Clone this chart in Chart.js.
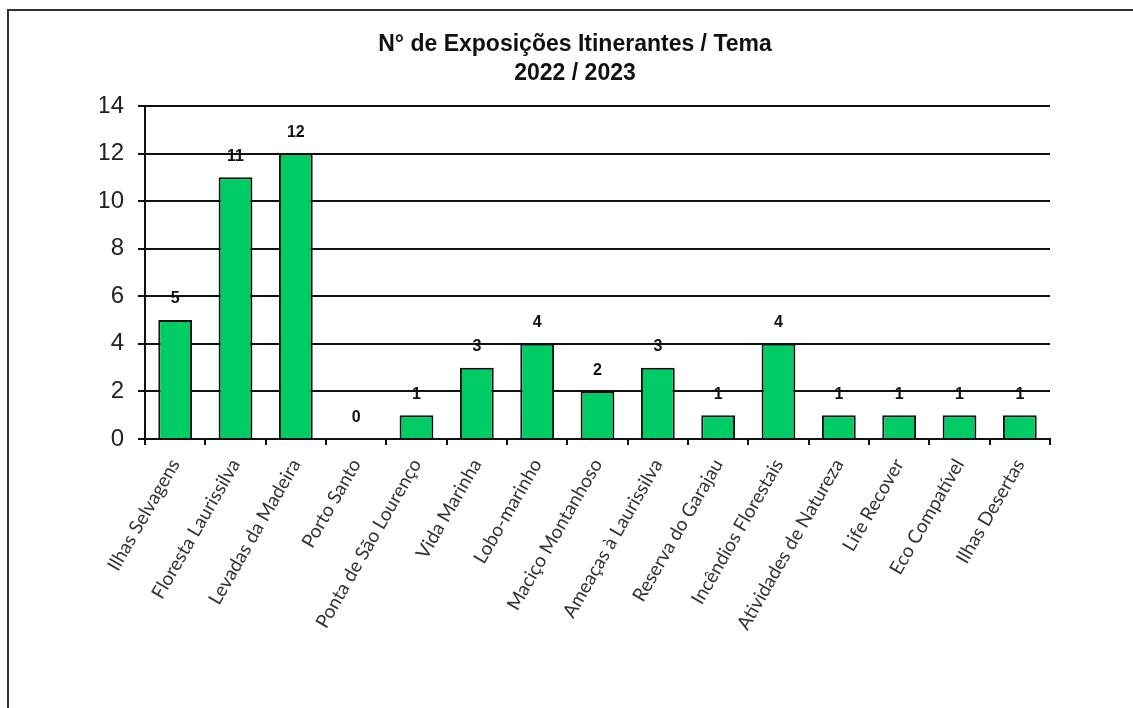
<!DOCTYPE html>
<html lang="pt">
<head>
<meta charset="utf-8">
<title>Exposições Itinerantes / Tema</title>
<script src="https://cdn.jsdelivr.net/npm/chart.js@4/dist/chart.umd.min.js"></script>
<style>
    html, body { margin: 0; padding: 0; background: #fff; }
    #moldura { width: 1133px; height: 708px; }
</style>
</head>
<body>
<div id="moldura"><canvas id="graficoTemas"></canvas></div>
<script>
// dados do gráfico
const temas = [
    'Ilhas Selvagens', 'Floresta Laurissilva', 'Levadas da Madeira', 'Porto Santo',
    'Ponta de São Lourenço', 'Vida Marinha', 'Lobo-marinho', 'Maciço Montanhoso',
    'Ameaças à Laurissilva', 'Reserva do Garajau', 'Incêndios Florestais',
    'Atividades de Natureza', 'Life Recover', 'Eco Compatível', 'Ilhas Desertas'
];
const exposicoes = [5, 11, 12, 0, 1, 3, 4, 2, 3, 1, 4, 1, 1, 1, 1];
const titulo = ['N° de Exposições Itinerantes / Tema', '2022 / 2023'];
const escalaY = { min: 0, max: 14, passo: 2 };

(() => {
    // moldura à volta do gráfico (cortada à direita e em baixo como no original)
    const pluginMoldura = {
        id: 'moldura',
        beforeDraw(chart) {
            const ctx = chart.ctx;
            ctx.save();
            ctx.strokeStyle = '#333';
            ctx.lineWidth = 2;
            ctx.strokeRect(8, 10, chart.width + 40, chart.height + 40);
            ctx.restore();
        }
    };

    // valores por cima das barras
    const pluginValores = {
        id: 'valores',
        afterDatasetsDraw(chart) {
            const ctx = chart.ctx;
            const meta = chart.getDatasetMeta(0);
            ctx.save();
            ctx.font = 'bold 16px "Liberation Sans", Arial, sans-serif';
            ctx.fillStyle = '#111';
            ctx.textAlign = 'center';
            ctx.textBaseline = 'middle';
            meta.data.forEach((barra, i) => {
                ctx.fillText(exposicoes[i], barra.x, barra.y - 21);
            });
            ctx.restore();
        }
    };

    new Chart(document.getElementById('graficoTemas').getContext('2d'), {
        type: 'bar',
        data: {
            labels: temas,
            datasets: [{
                data: exposicoes,
                backgroundColor: '#00CC66',
                borderColor: '#111',
                borderWidth: 2,
                categoryPercentage: 1,
                barPercentage: 0.56
            }]
        },
        options: {
            responsive: true,
            maintainAspectRatio: false,
            animation: false,
            layout: { padding: { left: 100, right: 83, top: 0, bottom: 0 } },
            plugins: {
                legend: { display: false },
                tooltip: { enabled: false },
                title: {
                    display: true,
                    text: titulo,
                    color: '#111',
                    font: { family: '"Liberation Sans", Arial, sans-serif', size: 23, weight: 'bold', lineHeight: 1.26 },
                    padding: { top: 30, bottom: 18 }
                }
            },
            scales: {
                x: {
                    grid: { display: true, drawOnChartArea: false, color: '#111', lineWidth: 2, tickLength: 6, offset: true },
                    border: { color: '#111', width: 2 },
                    ticks: {
                        minRotation: 60, maxRotation: 60, autoSkip: false, padding: 10,
                        color: '#333',
                        font: { family: 'Lato, "Open Sans", sans-serif', size: 19 }
                    },
                    afterFit(escala) { escala.height = 269; }
                },
                y: {
                    min: escalaY.min, max: escalaY.max,
                    grid: { color: '#111', lineWidth: 2, tickLength: 7 },
                    border: { color: '#111', width: 2 },
                    ticks: {
                        stepSize: escalaY.passo, padding: 14, color: '#222',
                        font: { family: '"Liberation Sans", Arial, sans-serif', size: 24 }
                    },
                    afterFit(escala) { escala.width = 45; }
                }
            }
        },
        plugins: [pluginMoldura, pluginValores]
    });
})();
</script>
</body>
</html>
